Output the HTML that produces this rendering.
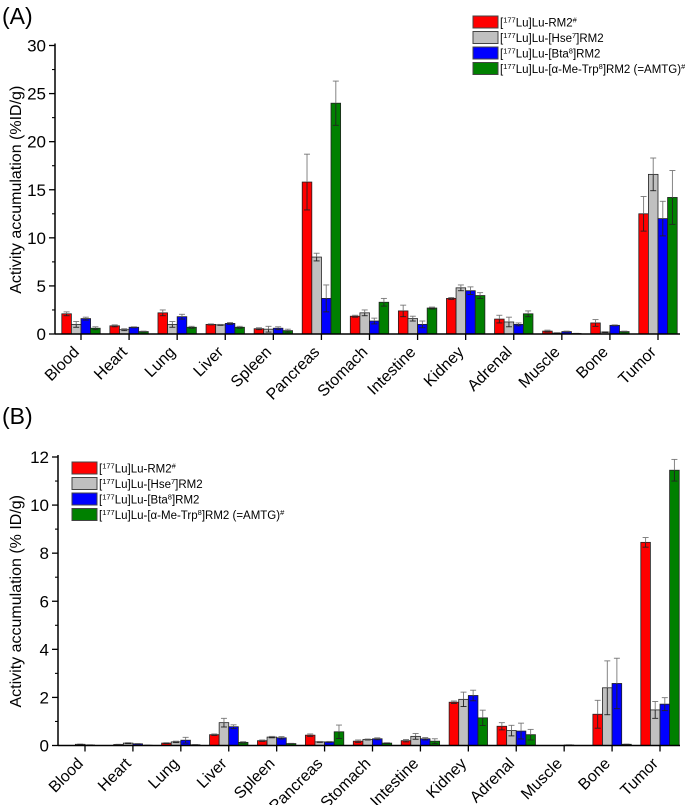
<!DOCTYPE html>
<html><head><meta charset="utf-8"><style>
body{margin:0;background:#fff;width:685px;height:805px;overflow:hidden}
svg{font-family:"Liberation Sans",Arial,sans-serif}
</style></head><body>
<svg id="chart" width="685" height="805" viewBox="0 0 685 805" xmlns="http://www.w3.org/2000/svg"></svg>
<script>
const categories=["Blood","Heart","Lung","Liver","Spleen","Pancreas","Stomach","Intestine","Kidney","Adrenal","Muscle","Bone","Tumor"];
const seriesNames=["[177Lu]Lu-RM2#","[177Lu]Lu-[Hse7]RM2","[177Lu]Lu-[Bta8]RM2","[177Lu]Lu-[α-Me-Trp8]RM2 (=AMTG)#"];
const colors=["#ff0000","#c0c0c0","#0000ff","#008000"];
const aRed=[2.1,0.85,2.2,1.0,0.55,15.8,1.85,2.4,3.7,1.55,0.3,1.15,12.5];
const aRedErr=[0.2,0.1,0.3,0.05,0.1,2.9,0.1,0.6,0.1,0.4,0.1,0.35,1.8];
const aGray=[1.0,0.45,1.0,0.95,0.5,8.0,2.2,1.6,4.8,1.25,0.1,0.2,16.6];
const aGrayErr=[0.3,0.1,0.3,0.05,0.3,0.4,0.3,0.25,0.3,0.5,0.05,0.05,1.7];
const aBlue=[1.6,0.7,1.8,1.1,0.6,3.7,1.35,1.0,4.5,1.0,0.25,0.9,12.0];
const aBlueErr=[0.15,0.05,0.25,0.1,0.15,1.4,0.3,0.35,0.4,0.15,0.05,0.05,1.8];
const aGreen=[0.6,0.25,0.7,0.7,0.35,24.0,3.3,2.7,4.0,2.1,0.05,0.25,14.2];
const aGreenErr=[0.15,0.05,0.1,0.1,0.15,2.3,0.4,0.1,0.3,0.3,0.02,0.05,2.8];
const bRed=[0,0.04,0.1,0.45,0.2,0.43,0.18,0.2,1.8,0.8,0,1.3,8.45];
const bRedErr=[0,0.01,0.02,0.03,0.03,0.05,0.05,0.05,0.05,0.15,0,0.58,0.2];
const bGray=[0.05,0.1,0.15,0.95,0.35,0.15,0.25,0.38,1.92,0.62,0,2.4,1.48];
const bGrayErr=[0.01,0.02,0.03,0.18,0.03,0.02,0.02,0.12,0.3,0.22,0,1.12,0.35];
const bBlue=[0.02,0.07,0.22,0.78,0.32,0.15,0.28,0.28,2.08,0.6,0.02,2.58,1.72];
const bBlueErr=[0.01,0.01,0.12,0.08,0.05,0.02,0.04,0.05,0.22,0.33,0.01,1.05,0.27];
const bGreen=[0,0.01,0.03,0.13,0.08,0.57,0.1,0.18,1.15,0.45,0,0.05,11.45];
const bGreenErr=[0,0.01,0.01,0.03,0.01,0.28,0.02,0.1,0.32,0.22,0,0.01,0.45];
const aTicks=[0,5,10,15,20,25,30];
const bTicks=[0,2,4,6,8,10,12];

const NS="http://www.w3.org/2000/svg";
const svg=document.getElementById("chart");
function el(tag,attrs,parent){const e=document.createElementNS(NS,tag);for(const k in attrs)e.setAttribute(k,attrs[k]);(parent||svg).appendChild(e);return e;}

function legendText(g,x,y,i){
  const t=el("text",{x:x,y:y,"font-size":"11.5"},g);
  const parts=[["[",0],["177",1],["Lu]Lu-",0]];
  if(i===0)parts.push(["RM2",0],["#",1]);
  if(i===1)parts.push(["[Hse",0],["7",1],["]RM2",0]);
  if(i===2)parts.push(["[Bta",0],["8",1],["]RM2",0]);
  if(i===3)parts.push(["[α-Me-Trp",0],["8",1],["]RM2 (=AMTG)",0],["#",1]);
  parts.forEach(p=>{const s=el("tspan",{},t);s.textContent=p[0];if(p[1]){s.setAttribute("font-size","7.5");s.setAttribute("baseline-shift","super");}});
}

function panel(opt){
  const g=el("g",{});
  
  
  const {x0,x1,y0,yTop,max,ticks,first,last}=opt;
  const ys=v=>y0-(v/max)*(y0-yTop);
  const step=(last-first)/(categories.length-1);
  const xs=i=>first+i*step;
  const bw=9.6;
  const lab=el("text",{x:2,y:opt.labelY,"font-size":"23"},g);lab.textContent=opt.label;
  
  for(let s=0;s<4;s++){
    const vals=opt.vals[s],errs=opt.errs[s];
    vals.forEach((v,i)=>{
      const bx=xs(i)-2*bw+s*bw;
      const r=el("rect",{x:bx,y:ys(v),width:bw,height:y0-ys(v),fill:colors[s],stroke:"#222","stroke-width":"0.8"},g);
      
      
      const e=errs[i];
      if(e>0){
        const cx=bx+bw/2;
        el("line",{x1:cx,x2:cx,y1:ys(v-e),y2:ys(v),stroke:"#222","stroke-width":"0.9"},g);
        el("line",{x1:cx,x2:cx,y1:ys(v),y2:ys(v+e),stroke:"#777","stroke-width":"0.9"},g);
        el("line",{x1:cx-3,x2:cx+3,y1:ys(v+e),y2:ys(v+e),stroke:"#777","stroke-width":"0.9"},g);
        el("line",{x1:cx-3,x2:cx+3,y1:ys(v-e),y2:ys(v-e),stroke:"#222","stroke-width":"0.9"},g);
      }
    });
  }
  const ya=el("line",{x1:x0,x2:x0,y1:yTop-2,y2:y0,stroke:"#000","stroke-width":"1.5"},g);
  
  const xa=el("line",{x1:x0,x2:x1,y1:y0,y2:y0,stroke:"#000","stroke-width":"1.5"},g);
  
  ticks.forEach((t,k)=>{
    el("line",{x1:x0-6,x2:x0,y1:ys(t),y2:ys(t),stroke:"#000","stroke-width":"1.3"},g);
    if(k<ticks.length-1){const m=(t+ticks[k+1])/2;el("line",{x1:x0-3,x2:x0,y1:ys(m),y2:ys(m),stroke:"#000","stroke-width":"1.1"},g);}
    const tl=el("text",{x:x0-9,y:ys(t)+6,"font-size":"17","text-anchor":"end"},g);tl.textContent=t;
    
  });
  categories.forEach((c,i)=>{
    el("line",{x1:xs(i),x2:xs(i),y1:y0,y2:y0+6,stroke:"#000","stroke-width":"1.3"},g);
    const tx=xs(i)-1,ty=y0+19;
    const tl=el("text",{x:tx,y:ty,"font-size":"16","text-anchor":"end",transform:`rotate(-45 ${tx} ${ty})`},g);
    tl.textContent=c;
    
  });
  const cy=(y0+yTop)/2;
  const yt=el("text",{x:opt.titleX,y:cy,"font-size":"16","text-anchor":"middle",transform:`rotate(-90 ${opt.titleX} ${cy})`},g);
  yt.textContent=opt.title;
  
  const lg=el("g",{},g);
  
  for(let s=0;s<4;s++){
    const ly=opt.legY+s*15.5;
    const e=el("g",{},lg);
    
    el("rect",{x:opt.legX,y:ly-6,width:25,height:12,fill:colors[s],stroke:"#444","stroke-width":"1"},e);
    legendText(e,opt.legX+27,ly+4.5,s);
  }
}
panel({name:"panel-a",label:"(A)",labelY:24,x0:55,x1:680,y0:334,yTop:45.5,max:30,ticks:aTicks,first:81,last:658,
  vals:[aRed,aGray,aBlue,aGreen],errs:[aRedErr,aGrayErr,aBlueErr,aGreenErr],
  title:"Activity accumulation (%ID/g)",titleX:21,legX:473,legY:22});
panel({name:"panel-b",label:"(B)",labelY:424,x0:58,x1:680,y0:745.5,yTop:457,max:12,ticks:bTicks,first:85,last:660,
  vals:[bRed,bGray,bBlue,bGreen],errs:[bRedErr,bGrayErr,bBlueErr,bGreenErr],
  title:"Activity accumulation (% ID/g)",titleX:21,legX:72,legY:468});
</script>
</body></html>
